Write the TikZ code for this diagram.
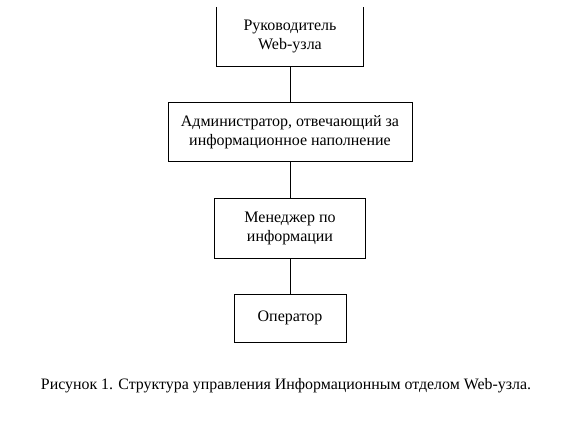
\documentclass[tikz,border=0pt]{standalone}
\usepackage{fontspec}
\setmainfont{Liberation Serif}
\begin{document}
\begin{tikzpicture}[x=1pt,y=-1pt,
  box/.style={draw=black,line width=1pt,align=center,inner sep=0pt,font=\fontsize{16}{18.5}\selectfont},
  openbox/.style={align=center,inner sep=0pt,font=\fontsize{16}{18.5}\selectfont},
  link/.style={draw=black,line width=1pt}]
\useasboundingbox (0,0) rectangle (580,424);
\node[openbox,minimum width=146pt,minimum height=59pt] (b1) at (290,36.5) {Руководитель\\Web-узла};
\node[box,minimum width=244pt,minimum height=59.5pt] (b2) at (290,132) {Администратор, отвечающий за\\информационное наполнение};
\node[box,minimum width=151.5pt,minimum height=60pt] (b3) at (290,228.3) {Менеджер по\\информации};
\node[box,minimum width=112pt,minimum height=48pt] (b4) at (290,318) {Оператор};
\node[inner sep=0pt,font=\fontsize{15.9}{18}\selectfont] (cap) at (286,386) {Рисунок 1. Структура управления Информационным отделом Web-узла.};
\draw[link] (b1.north west) -- (b1.south west) -- (b1.south east) -- (b1.north east);
\draw[link] (b1.south) -- (b2.north);
\draw[link] (b2.south) -- (b3.north);
\draw[link] (b3.south) -- (b4.north);
\end{tikzpicture}
\end{document}
